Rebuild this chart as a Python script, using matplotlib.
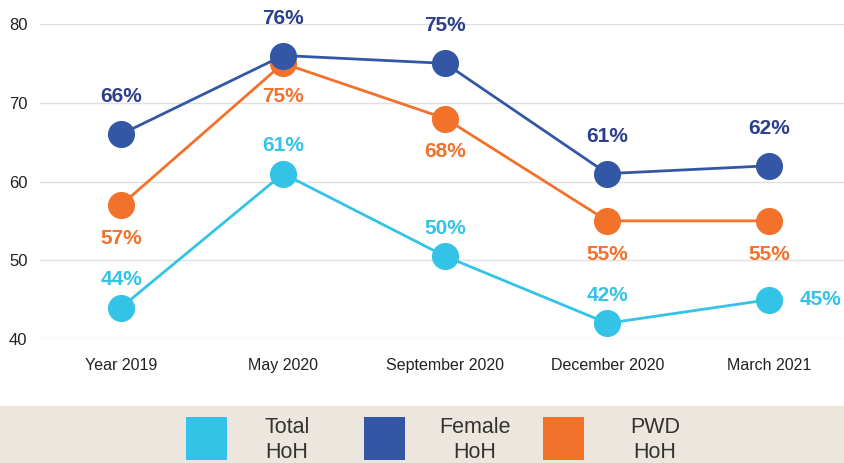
import numpy as np
import matplotlib
matplotlib.use("Agg")
import matplotlib.pyplot as plt
from matplotlib.patches import Rectangle

plt.rcParams["font.family"] = ["Liberation Sans", "DejaVu Sans"]

# data
periods = ["Year 2019", "May 2020", "September 2020", "December 2020", "March 2021"]
total_hoh = [44, 61, 50.5, 42, 45]
total_lbl = ["44%", "61%", "50%", "42%", "45%"]
female_hoh = [66, 76, 75, 61, 62]
female_lbl = ["66%", "76%", "75%", "61%", "62%"]
pwd_hoh = [57, 75, 68, 55, 55]
pwd_lbl = ["57%", "75%", "68%", "55%", "55%"]

c_total = "#33c3e6"
c_female = "#3357a5"
c_female_txt = "#2b3f8c"
c_pwd = "#f2712b"
narrow = ["Liberation Sans Narrow", "Liberation Sans", "DejaVu Sans"]

fig = plt.figure(figsize=(8.44, 4.63), dpi=100)
ax = fig.add_axes([40 / 844, (463 - 339) / 463, 804 / 844, 315 / 463])
x = np.arange(len(periods))

for vals, col in [(total_hoh, c_total), (pwd_hoh, c_pwd), (female_hoh, c_female)]:
    ax.plot(x, vals, color=col, lw=2, marker="o", ms=18.5, clip_on=False, zorder=3)

lbl_kw = dict(textcoords="offset points", ha="center", va="center", fontsize=15, fontweight="bold")
for i in range(len(periods)):
    ax.annotate(female_lbl[i], (x[i], female_hoh[i]), xytext=(0, 27), color=c_female_txt, **lbl_kw)
    ax.annotate(pwd_lbl[i], (x[i], pwd_hoh[i]), xytext=(0, -24), color=c_pwd, **lbl_kw)
    off = (37, 0) if i == len(periods) - 1 else (0, 20)
    ax.annotate(total_lbl[i], (x[i], total_hoh[i]), xytext=off, color=c_total, **lbl_kw)

ax.set_xlim(-0.5, 4.46)
ax.set_ylim(40, 80)
ax.set_yticks([40, 50, 60, 70, 80])
ax.set_xticks(x)
ax.set_xticklabels(periods, family=narrow, fontsize=11.5, color="#222222")
for t in ax.get_yticklabels():
    t.set_fontsize(12)
    t.set_color("#222222")
ax.tick_params(length=0)
ax.tick_params(axis="x", pad=14)
ax.tick_params(axis="y", pad=9)
ax.grid(axis="y", color="#e0e0e0", lw=1)
ax.set_axisbelow(True)
for s in ax.spines.values():
    s.set_visible(False)

# legend band
fig.patches.append(Rectangle((0, 0), 1, 57 / 463, transform=fig.transFigure,
                             facecolor="#ede6de", edgecolor="none", zorder=0))
leg = [("Total\nHoH", c_total, 186, 287), ("Female\nHoH", c_female, 364, 475), ("PWD\nHoH", c_pwd, 543, 655)]
for name, col, sx, tx in leg:
    fig.patches.append(Rectangle((sx / 844, 3 / 463), 41 / 844, 43 / 463, transform=fig.transFigure,
                                 facecolor=col, edgecolor="none", zorder=1))
    fig.text(tx / 844, 23 / 463, name, ha="center", va="center", family=narrow,
             fontsize=15.5, color="#333333", linespacing=1.25)

fig.savefig("out.png", dpi=100)
